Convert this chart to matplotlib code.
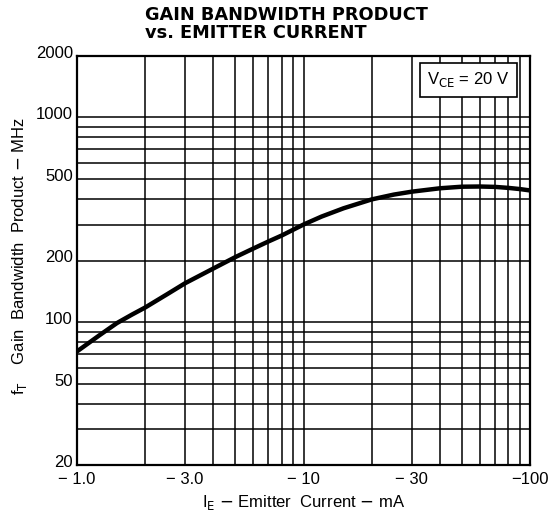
import matplotlib
matplotlib.use("Agg")
import matplotlib.pyplot as plt
from matplotlib.ticker import FixedLocator, NullFormatter
from matplotlib.transforms import ScaledTranslation

plt.rcParams['font.family'] = ['Liberation Sans', 'DejaVu Sans']

# emitter current (mA, magnitude) and fT (MHz)
courant = [1, 1.25, 1.5, 1.75, 2, 2.5, 3, 4, 5, 6, 7, 8, 10, 12, 15, 20, 25, 30, 40, 50, 60, 70, 80, 90, 100]
ft = [72, 86, 99, 109, 118, 137, 155, 183, 208, 229, 248, 265, 300, 328, 360, 398, 420, 434, 451, 459, 460, 458, 453, 447, 440]

xticks = [1, 3, 10, 30, 100]
xlabels = ['\u2212 1.0', '\u2212 3.0', '\u2212 10', '\u2212 30', '\u2212100']
yticks = [20, 50, 100, 200, 500, 1000, 2000]
ylabels = ['20', '50', '100', '200', '500', '1000', '2000']
xgrid = [2, 3, 4, 5, 6, 7, 8, 9, 10, 20, 30, 40, 50, 60, 70, 80, 90]
ygrid = [30, 40, 50, 60, 70, 80, 90, 100, 200, 300, 400, 500, 600, 700, 800, 900, 1000]

fig = plt.figure(figsize=(5.54, 5.17), dpi=100)
ax = fig.add_axes([0.139, 0.100, 0.818, 0.792])

ax.set_xscale('log')
ax.set_yscale('log')
ax.set_xlim(1, 100)
ax.set_ylim(20, 2000)

# grid lines at hand-picked positions (none between 1000 and 2000)
for g in xgrid:
    ax.axvline(g, color='black', lw=1.1, zorder=1)
for g in ygrid:
    ax.axhline(g, color='black', lw=1.1, zorder=1)

ax.plot(courant, ft, color='black', lw=3.2, solid_joinstyle='round', zorder=3)

ax.xaxis.set_major_locator(FixedLocator(xticks))
ax.set_xticklabels(xlabels)
ax.xaxis.set_minor_formatter(NullFormatter())
ax.xaxis.set_minor_locator(FixedLocator([]))
ax.yaxis.set_major_locator(FixedLocator(yticks))
ax.set_yticklabels(ylabels)
ax.yaxis.set_minor_formatter(NullFormatter())
ax.yaxis.set_minor_locator(FixedLocator([]))
ax.tick_params(length=0, labelsize=12)
ax.tick_params(axis='x', pad=5)
ax.tick_params(axis='y', pad=3)
decal = ScaledTranslation(0, 3 / 72, fig.dpi_scale_trans)
for lab in ax.get_yticklabels():
    lab.set_transform(lab.get_transform() + decal)

for s in ax.spines.values():
    s.set_linewidth(1.6)

# V_CE box
ax.text(0.955, 0.965, r'V$_{\mathrm{CE}}$ = 20 V', transform=ax.transAxes,
        ha='right', va='top', fontsize=12, zorder=5,
        bbox=dict(boxstyle='square,pad=0.45', facecolor='white', edgecolor='black', lw=1.2))

fig.text(0.262, 0.988, 'GAIN BANDWIDTH PRODUCT\nvs. EMITTER CURRENT', fontsize=12.8,
         fontweight='bold', family='DejaVu Sans', ha='left', va='top', linespacing=1.0)

ax.set_xlabel(r'I$_{\mathrm{E}}$ $-$ Emitter  Current $-$ mA', fontsize=12, labelpad=4)
ax.set_ylabel(r'f$_{\mathrm{T}}$    Gain  Bandwidth  Product $-$ MHz', fontsize=12)
ax.yaxis.set_label_coords(-0.105, 0.51)

fig.savefig('out.png', dpi=100)
